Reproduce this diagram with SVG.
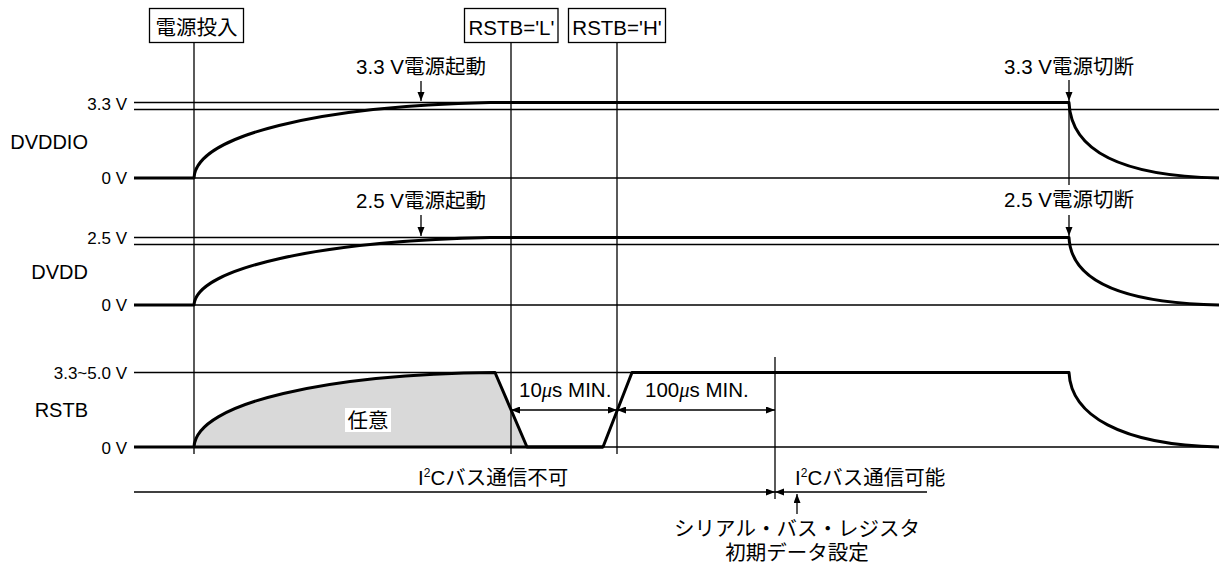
<svg xmlns="http://www.w3.org/2000/svg" width="1219" height="569" viewBox="0 0 1219 569">
<style>
  text { font-family: "Liberation Sans", "Noto Sans CJK JP", sans-serif; fill: #000; }
  .lbl { font-size: 20.5px; }
  .ax { font-size: 17px; text-anchor: end; }
  .sig { font-size: 20px; text-anchor: end; }
  .mid { text-anchor: middle; }
  .thin { stroke: #000; stroke-width: 1.3; fill: none; }
  .thick { stroke: #000; stroke-width: 3; fill: none; stroke-linejoin: round; }
  .box { fill: #fff; stroke: #000; stroke-width: 1.3; }
  .arr { stroke: #000; stroke-width: 1.3; fill: none; marker-end: url(#ah); }
</style>
<defs>
  <marker id="ah" markerUnits="userSpaceOnUse" markerWidth="10" markerHeight="8" refX="9" refY="3.5" orient="auto">
    <path d="M0,0 L9,3.5 L0,7 Z" fill="#000"/>
  </marker>
  <marker id="as" markerUnits="userSpaceOnUse" markerWidth="10" markerHeight="8" refX="0" refY="3.5" orient="auto">
    <path d="M9,0 L0,3.5 L9,7 Z" fill="#000"/>
  </marker>
</defs>

<g id="axes">
  <text class="ax" x="127" y="110">3.3 V</text>
  <text class="sig" x="88" y="149">DVDDIO</text>
  <text class="ax" x="127" y="184">0 V</text>
  <text class="ax" x="127" y="244">2.5 V</text>
  <text class="sig" x="88" y="279">DVDD</text>
  <text class="ax" x="127" y="311">0 V</text>
  <text class="ax" x="127" y="379">3.3~5.0 V</text>
  <text class="sig" x="88" y="417">RSTB</text>
  <text class="ax" x="127" y="454">0 V</text>
</g>

<g id="gridlines">
  <line class="thin" x1="134" y1="102.5" x2="1069" y2="102.5"/>
  <line class="thin" x1="134" y1="109.5" x2="1219" y2="109.5"/>
  <line class="thin" x1="134" y1="178" x2="1219" y2="178"/>
  <line class="thin" x1="134" y1="237.5" x2="1069" y2="237.5"/>
  <line class="thin" x1="134" y1="244.5" x2="1219" y2="244.5"/>
  <line class="thin" x1="134" y1="305" x2="1219" y2="305"/>
  <line class="thin" x1="134" y1="372.5" x2="1069" y2="372.5"/>
  <line class="thin" x1="134" y1="447" x2="1219" y2="447"/>
</g>

<g id="rstb-fill">
  <path d="M194,447 C196,402 330,374 495,372.5 L527,447 Z" fill="#d9d9d9"/>
  <rect x="345" y="408" width="46" height="24" fill="#fff"/>
  <text class="lbl mid" x="368" y="428">任意</text>
</g>

<g id="markers">
  <line class="thin" x1="194" y1="43" x2="194" y2="454"/>
  <line class="thin" x1="511" y1="43" x2="511" y2="454"/>
  <line class="thin" x1="617" y1="43" x2="617" y2="454"/>
  <line class="thin" x1="775" y1="357" x2="775" y2="499"/>
  <line class="thin" x1="1069" y1="101" x2="1069" y2="185"/>
</g>

<g id="box-power-on">
  <rect class="box" x="149.5" y="8.5" width="94" height="34"/>
  <text class="lbl mid" x="196.5" y="35">電源投入</text>
</g>
<g id="box-rstb-l">
  <rect class="box" x="464.5" y="8.5" width="93.5" height="34"/>
  <text class="lbl mid" x="511.5" y="35">RSTB='L'</text>
</g>
<g id="box-rstb-h">
  <rect class="box" x="568.5" y="8.5" width="97" height="34"/>
  <text class="lbl mid" x="617" y="35">RSTB='H'</text>
</g>

<g id="signals">
  <path class="thick" d="M134,178 L194,178 C196,135 320,106 490,102.5 L1069,102.5 C1071,150 1120,176 1219,178"/>
  <path class="thick" d="M134,305 L194,305 C196,268 320,241 490,237.5 L1069,237.5 C1071,280 1120,303 1219,305"/>
  <path class="thick" d="M194,447 C196,402 330,374 495,372.5 L527,447 L603,447 L632,372.5 L1069,372.5 C1071,415 1120,445 1219,447"/>
  <line class="thick" x1="134" y1="447" x2="603" y2="447"/>
</g>

<g id="event-labels">
  <text class="lbl mid" x="421" y="74">3.3 V電源起動</text>
  <text class="lbl mid" x="421" y="208">2.5 V電源起動</text>
  <text class="lbl mid" x="1069" y="74">3.3 V電源切断</text>
  <text class="lbl mid" x="1069" y="207">2.5 V電源切断</text>
</g>

<g id="connectors">
  <line class="arr" x1="421" y1="81" x2="421" y2="101"/>
  <line class="arr" x1="421" y1="215" x2="421" y2="236"/>
  <line class="arr" x1="1069" y1="80" x2="1069" y2="101"/>
  <line class="arr" x1="1069" y1="215" x2="1069" y2="236"/>
  <line class="thin" x1="511" y1="410" x2="617" y2="410" marker-start="url(#as)" marker-end="url(#ah)"/>
  <line class="thin" x1="617" y1="410" x2="775" y2="410" marker-start="url(#as)" marker-end="url(#ah)"/>
  <line class="arr" x1="134" y1="492" x2="775" y2="492"/>
  <line class="arr" x1="927" y1="492" x2="775" y2="492"/>
  <line class="arr" x1="797" y1="514" x2="797" y2="494"/>
</g>

<g id="timing-labels">
  <text class="lbl" x="519" y="397">10<tspan font-style="italic" font-family="Liberation Serif, serif">μ</tspan>s MIN.</text>
  <text class="lbl" x="645" y="397">100<tspan font-style="italic" font-family="Liberation Serif, serif">μ</tspan>s MIN.</text>
  <text class="lbl" x="418" y="485">I<tspan font-size="12" dy="-8">2</tspan><tspan dy="8">Cバス通信不可</tspan></text>
  <text class="lbl" x="795" y="485">I<tspan font-size="12" dy="-8">2</tspan><tspan dy="8">Cバス通信可能</tspan></text>
  <text class="lbl mid" x="797" y="536">シリアル・バス・レジスタ</text>
  <text class="lbl mid" x="797" y="560">初期データ設定</text>
</g>
</svg>
